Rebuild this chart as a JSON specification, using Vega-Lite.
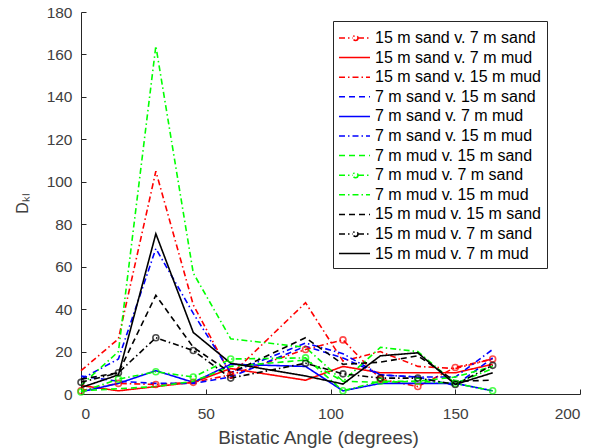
{
  "$schema": "https://vega.github.io/schema/vega-lite/v6.json",
  "width": 499,
  "height": 382,
  "autosize": {"type": "none"},
  "padding": {"left": 81, "top": 12, "right": 22, "bottom": 54},
  "background": "white",
  "config": {
    "view": {"stroke": null},
    "font": "Liberation Sans",
    "axis": {
      "grid": false,
      "domainColor": "#262626",
      "tickColor": "#262626",
      "labelColor": "#404040",
      "titleColor": "#404040",
      "labelFont": "Liberation Sans",
      "titleFont": "Liberation Sans",
      "labelFontSize": 15.5,
      "titleFontSize": 18,
      "titleFontWeight": "normal",
      "tickSize": -5,
      "domainWidth": 1,
      "tickWidth": 1
    },
    "legend": {
      "symbolOpacity": 1,
      "symbolStrokeWidth": 1.5,
      "symbolSize": 400,
      "labelLimit": 400
    }
  },
  "data": {
    "values": [
      {"s": "15 m sand v. 7 m sand", "x": 0, "y": 1.5},
      {"s": "15 m sand v. 7 m sand", "x": 15, "y": 5},
      {"s": "15 m sand v. 7 m sand", "x": 30, "y": 4.5},
      {"s": "15 m sand v. 7 m sand", "x": 45, "y": 5.5},
      {"s": "15 m sand v. 7 m sand", "x": 60, "y": 9},
      {"s": "15 m sand v. 7 m sand", "x": 90, "y": 21},
      {"s": "15 m sand v. 7 m sand", "x": 105, "y": 25.5},
      {"s": "15 m sand v. 7 m sand", "x": 120, "y": 7},
      {"s": "15 m sand v. 7 m sand", "x": 135, "y": 3.5},
      {"s": "15 m sand v. 7 m sand", "x": 150, "y": 12.5},
      {"s": "15 m sand v. 7 m sand", "x": 165, "y": 16.5},
      {"s": "15 m sand v. 7 m mud", "x": 0, "y": 4},
      {"s": "15 m sand v. 7 m mud", "x": 15, "y": 1.5},
      {"s": "15 m sand v. 7 m mud", "x": 30, "y": 3.5},
      {"s": "15 m sand v. 7 m mud", "x": 45, "y": 5.5},
      {"s": "15 m sand v. 7 m mud", "x": 60, "y": 12},
      {"s": "15 m sand v. 7 m mud", "x": 90, "y": 6.5},
      {"s": "15 m sand v. 7 m mud", "x": 105, "y": 13},
      {"s": "15 m sand v. 7 m mud", "x": 120, "y": 10},
      {"s": "15 m sand v. 7 m mud", "x": 135, "y": 10},
      {"s": "15 m sand v. 7 m mud", "x": 150, "y": 10},
      {"s": "15 m sand v. 7 m mud", "x": 165, "y": 14},
      {"s": "15 m sand v. 15 m mud", "x": 0, "y": 11},
      {"s": "15 m sand v. 15 m mud", "x": 15, "y": 26},
      {"s": "15 m sand v. 15 m mud", "x": 30, "y": 105},
      {"s": "15 m sand v. 15 m mud", "x": 45, "y": 42},
      {"s": "15 m sand v. 15 m mud", "x": 60, "y": 9},
      {"s": "15 m sand v. 15 m mud", "x": 90, "y": 43},
      {"s": "15 m sand v. 15 m mud", "x": 105, "y": 15.5},
      {"s": "15 m sand v. 15 m mud", "x": 120, "y": 20},
      {"s": "15 m sand v. 15 m mud", "x": 135, "y": 13},
      {"s": "15 m sand v. 15 m mud", "x": 150, "y": 12},
      {"s": "15 m sand v. 15 m mud", "x": 165, "y": 16.5},
      {"s": "7 m sand v. 15 m sand", "x": 0, "y": 8.5},
      {"s": "7 m sand v. 15 m sand", "x": 15, "y": 6},
      {"s": "7 m sand v. 15 m sand", "x": 30, "y": 5},
      {"s": "7 m sand v. 15 m sand", "x": 45, "y": 5},
      {"s": "7 m sand v. 15 m sand", "x": 60, "y": 8},
      {"s": "7 m sand v. 15 m sand", "x": 90, "y": 22.5},
      {"s": "7 m sand v. 15 m sand", "x": 105, "y": 17},
      {"s": "7 m sand v. 15 m sand", "x": 120, "y": 9},
      {"s": "7 m sand v. 15 m sand", "x": 135, "y": 8},
      {"s": "7 m sand v. 15 m sand", "x": 150, "y": 4},
      {"s": "7 m sand v. 15 m sand", "x": 165, "y": 17},
      {"s": "7 m sand v. 7 m mud", "x": 0, "y": 1},
      {"s": "7 m sand v. 7 m mud", "x": 15, "y": 5},
      {"s": "7 m sand v. 7 m mud", "x": 30, "y": 11},
      {"s": "7 m sand v. 7 m mud", "x": 45, "y": 5.5},
      {"s": "7 m sand v. 7 m mud", "x": 60, "y": 14},
      {"s": "7 m sand v. 7 m mud", "x": 90, "y": 13},
      {"s": "7 m sand v. 7 m mud", "x": 105, "y": 1.5},
      {"s": "7 m sand v. 7 m mud", "x": 120, "y": 5},
      {"s": "7 m sand v. 7 m mud", "x": 135, "y": 5},
      {"s": "7 m sand v. 7 m mud", "x": 150, "y": 5},
      {"s": "7 m sand v. 7 m mud", "x": 165, "y": 1.5},
      {"s": "7 m sand v. 15 m mud", "x": 0, "y": 7},
      {"s": "7 m sand v. 15 m mud", "x": 15, "y": 16.5},
      {"s": "7 m sand v. 15 m mud", "x": 30, "y": 68.5},
      {"s": "7 m sand v. 15 m mud", "x": 45, "y": 38},
      {"s": "7 m sand v. 15 m mud", "x": 60, "y": 10},
      {"s": "7 m sand v. 15 m mud", "x": 90, "y": 24},
      {"s": "7 m sand v. 15 m mud", "x": 105, "y": 19},
      {"s": "7 m sand v. 15 m mud", "x": 120, "y": 9},
      {"s": "7 m sand v. 15 m mud", "x": 135, "y": 8},
      {"s": "7 m sand v. 15 m mud", "x": 150, "y": 8},
      {"s": "7 m sand v. 15 m mud", "x": 165, "y": 21},
      {"s": "7 m mud v. 15 m sand", "x": 0, "y": 1.5},
      {"s": "7 m mud v. 15 m sand", "x": 15, "y": 2.5},
      {"s": "7 m mud v. 15 m sand", "x": 30, "y": 3.5},
      {"s": "7 m mud v. 15 m sand", "x": 45, "y": 6},
      {"s": "7 m mud v. 15 m sand", "x": 60, "y": 13},
      {"s": "7 m mud v. 15 m sand", "x": 90, "y": 16},
      {"s": "7 m mud v. 15 m sand", "x": 105, "y": 6},
      {"s": "7 m mud v. 15 m sand", "x": 120, "y": 5.5},
      {"s": "7 m mud v. 15 m sand", "x": 135, "y": 6},
      {"s": "7 m mud v. 15 m sand", "x": 150, "y": 8},
      {"s": "7 m mud v. 15 m sand", "x": 165, "y": 13},
      {"s": "7 m mud v. 7 m sand", "x": 0, "y": 1},
      {"s": "7 m mud v. 7 m sand", "x": 15, "y": 7},
      {"s": "7 m mud v. 7 m sand", "x": 30, "y": 10.5},
      {"s": "7 m mud v. 7 m sand", "x": 45, "y": 8},
      {"s": "7 m mud v. 7 m sand", "x": 60, "y": 16.5},
      {"s": "7 m mud v. 7 m sand", "x": 90, "y": 17},
      {"s": "7 m mud v. 7 m sand", "x": 105, "y": 1.5},
      {"s": "7 m mud v. 7 m sand", "x": 120, "y": 6},
      {"s": "7 m mud v. 7 m sand", "x": 135, "y": 6},
      {"s": "7 m mud v. 7 m sand", "x": 150, "y": 5},
      {"s": "7 m mud v. 7 m sand", "x": 165, "y": 1.5},
      {"s": "7 m mud v. 15 m mud", "x": 0, "y": 4},
      {"s": "7 m mud v. 15 m mud", "x": 15, "y": 20},
      {"s": "7 m mud v. 15 m mud", "x": 30, "y": 164},
      {"s": "7 m mud v. 15 m mud", "x": 45, "y": 57},
      {"s": "7 m mud v. 15 m mud", "x": 60, "y": 26},
      {"s": "7 m mud v. 15 m mud", "x": 90, "y": 22},
      {"s": "7 m mud v. 15 m mud", "x": 105, "y": 6},
      {"s": "7 m mud v. 15 m mud", "x": 120, "y": 22},
      {"s": "7 m mud v. 15 m mud", "x": 135, "y": 20},
      {"s": "7 m mud v. 15 m mud", "x": 150, "y": 5},
      {"s": "7 m mud v. 15 m mud", "x": 165, "y": 12},
      {"s": "15 m mud v. 15 m sand", "x": 0, "y": 7},
      {"s": "15 m mud v. 15 m sand", "x": 15, "y": 10},
      {"s": "15 m mud v. 15 m sand", "x": 30, "y": 46.5},
      {"s": "15 m mud v. 15 m sand", "x": 45, "y": 22},
      {"s": "15 m mud v. 15 m sand", "x": 60, "y": 10},
      {"s": "15 m mud v. 15 m sand", "x": 90, "y": 26.5},
      {"s": "15 m mud v. 15 m sand", "x": 105, "y": 14},
      {"s": "15 m mud v. 15 m sand", "x": 120, "y": 15},
      {"s": "15 m mud v. 15 m sand", "x": 135, "y": 18},
      {"s": "15 m mud v. 15 m sand", "x": 150, "y": 6},
      {"s": "15 m mud v. 15 m sand", "x": 165, "y": 6.5},
      {"s": "15 m mud v. 7 m sand", "x": 0, "y": 5.5},
      {"s": "15 m mud v. 7 m sand", "x": 15, "y": 10},
      {"s": "15 m mud v. 7 m sand", "x": 30, "y": 26.5},
      {"s": "15 m mud v. 7 m sand", "x": 45, "y": 20.5},
      {"s": "15 m mud v. 7 m sand", "x": 60, "y": 7.5},
      {"s": "15 m mud v. 7 m sand", "x": 90, "y": 14.5},
      {"s": "15 m mud v. 7 m sand", "x": 105, "y": 9.5},
      {"s": "15 m mud v. 7 m sand", "x": 120, "y": 7.5},
      {"s": "15 m mud v. 7 m sand", "x": 135, "y": 7.5},
      {"s": "15 m mud v. 7 m sand", "x": 150, "y": 4.5},
      {"s": "15 m mud v. 7 m sand", "x": 165, "y": 13.5},
      {"s": "15 m mud v. 7 m mud", "x": 0, "y": 3},
      {"s": "15 m mud v. 7 m mud", "x": 15, "y": 9},
      {"s": "15 m mud v. 7 m mud", "x": 30, "y": 75.5},
      {"s": "15 m mud v. 7 m mud", "x": 45, "y": 29},
      {"s": "15 m mud v. 7 m mud", "x": 60, "y": 14.5},
      {"s": "15 m mud v. 7 m mud", "x": 90, "y": 8.5},
      {"s": "15 m mud v. 7 m mud", "x": 105, "y": 4.7},
      {"s": "15 m mud v. 7 m mud", "x": 120, "y": 18},
      {"s": "15 m mud v. 7 m mud", "x": 135, "y": 19.4},
      {"s": "15 m mud v. 7 m mud", "x": 150, "y": 4.5},
      {"s": "15 m mud v. 7 m mud", "x": 165, "y": 10}
    ]
  },
  "encoding": {
    "x": {
      "field": "x",
      "type": "quantitative",
      "scale": {"domain": [0, 200], "nice": false, "zero": false},
      "axis": {"title": "Bistatic Angle (degrees)", "values": [0, 50, 100, 150, 200], "labelPadding": 17, "titlePadding": 7, "titleFontSize": 19, "titleX": 237}
    },
    "y": {
      "field": "y",
      "type": "quantitative",
      "scale": {"domain": [0, 180], "nice": false},
      "axis": {"title": "Dₖₗ", "values": [0, 20, 40, 60, 80, 100, 120, 140, 160, 180], "labelPadding": 14, "titlePadding": 16, "titleFontSize": 16}
    }
  },
  "layer": [
    {
      "mark": {"type": "line", "strokeWidth": 1.6},
      "encoding": {
        "color": {
          "field": "s",
          "type": "nominal",
          "scale": {
            "domain": ["15 m sand v. 7 m sand", "15 m sand v. 7 m mud", "15 m sand v. 15 m mud", "7 m sand v. 15 m sand", "7 m sand v. 7 m mud", "7 m sand v. 15 m mud", "7 m mud v. 15 m sand", "7 m mud v. 7 m sand", "7 m mud v. 15 m mud", "15 m mud v. 15 m sand", "15 m mud v. 7 m sand", "15 m mud v. 7 m mud"],
            "range": ["#ff0000", "#ff0000", "#ff0000", "#0000ff", "#0000ff", "#0000ff", "#00ff00", "#00ff00", "#00ff00", "#000000", "#000000", "#000000"]
          },
          "legend": {
            "title": null,
            "orient": "none",
            "legendX": 252,
            "legendY": 9,
            "padding": 6,
            "rowPadding": 0.6,
            "strokeColor": "#262626",
            "fillColor": "white",
            "labelFontSize": 16,
            "labelColor": "#000000",
            "labelOffset": 14,
            "labelLimit": 400,
            "labelFont": "Liberation Sans"
          }
        },
        "strokeDash": {
          "field": "s",
          "type": "nominal",
          "scale": {
            "domain": ["15 m sand v. 7 m sand", "15 m sand v. 7 m mud", "15 m sand v. 15 m mud", "7 m sand v. 15 m sand", "7 m sand v. 7 m mud", "7 m sand v. 15 m mud", "7 m mud v. 15 m sand", "7 m mud v. 7 m sand", "7 m mud v. 15 m mud", "15 m mud v. 15 m sand", "15 m mud v. 7 m sand", "15 m mud v. 7 m mud"],
            "range": [[6, 3, 1.5, 3], [1, 0], [6, 3, 1.5, 3], [6, 4], [1, 0], [6, 3, 1.5, 3], [6, 4], [6, 3, 1.5, 3], [6, 3, 1.5, 3], [6, 4], [6, 3, 1.5, 3], [1, 0]]
          },
          "legend": {
            "title": null,
            "orient": "none",
            "legendX": 252,
            "legendY": 9,
            "padding": 6,
            "rowPadding": 0.6,
            "strokeColor": "#262626",
            "fillColor": "white",
            "labelFontSize": 16,
            "labelColor": "#000000",
            "labelOffset": 14,
            "labelLimit": 400,
            "labelFont": "Liberation Sans"
          }
        }
      }
    },
    {
      "mark": {"type": "point", "opacity": 0, "filled": false, "strokeWidth": 1.5},
      "transform": [{"filter": "datum.x == 0"}],
      "encoding": {
        "color": {"field": "s", "type": "nominal"},
        "strokeDash": {"field": "s", "type": "nominal"},
        "shape": {
          "field": "s",
          "type": "nominal",
          "scale": {
            "domain": ["15 m sand v. 7 m sand", "15 m sand v. 7 m mud", "15 m sand v. 15 m mud", "7 m sand v. 15 m sand", "7 m sand v. 7 m mud", "7 m sand v. 15 m mud", "7 m mud v. 15 m sand", "7 m mud v. 7 m sand", "7 m mud v. 15 m mud", "15 m mud v. 15 m sand", "15 m mud v. 7 m sand", "15 m mud v. 7 m mud"],
            "range": ["M-1.1,0H0.3M0.8,0H2M0.8,0A0.25,0.25,0,1,1,0.3,0A0.25,0.25,0,1,1,0.8,0", "M-1.1,0H2", "M-1.1,0H2", "M-1.1,0H2", "M-1.1,0H2", "M-1.1,0H2", "M-1.1,0H2", "M-1.1,0H0.3M0.8,0H2M0.8,0A0.25,0.25,0,1,1,0.3,0A0.25,0.25,0,1,1,0.8,0", "M-1.1,0H2", "M-1.1,0H2", "M-1.1,0H0.3M0.8,0H2M0.8,0A0.25,0.25,0,1,1,0.3,0A0.25,0.25,0,1,1,0.8,0", "M-1.1,0H2"]
          },
          "legend": {
            "title": null,
            "orient": "none",
            "legendX": 252,
            "legendY": 9,
            "padding": 6,
            "rowPadding": 0.6,
            "strokeColor": "#262626",
            "fillColor": "white",
            "labelFontSize": 16,
            "labelColor": "#000000",
            "labelOffset": 14,
            "labelLimit": 400,
            "labelFont": "Liberation Sans"
          }
        }
      }
    },
    {
      "mark": {"type": "point", "shape": "circle", "filled": false, "size": 36, "strokeWidth": 1.6},
      "transform": [{"filter": "datum.s == '15 m sand v. 7 m sand' || datum.s == '7 m mud v. 7 m sand' || datum.s == '15 m mud v. 7 m sand'"}],
      "encoding": {
        "color": {"field": "s", "type": "nominal", "legend": null}
      }
    }
  ]
}
